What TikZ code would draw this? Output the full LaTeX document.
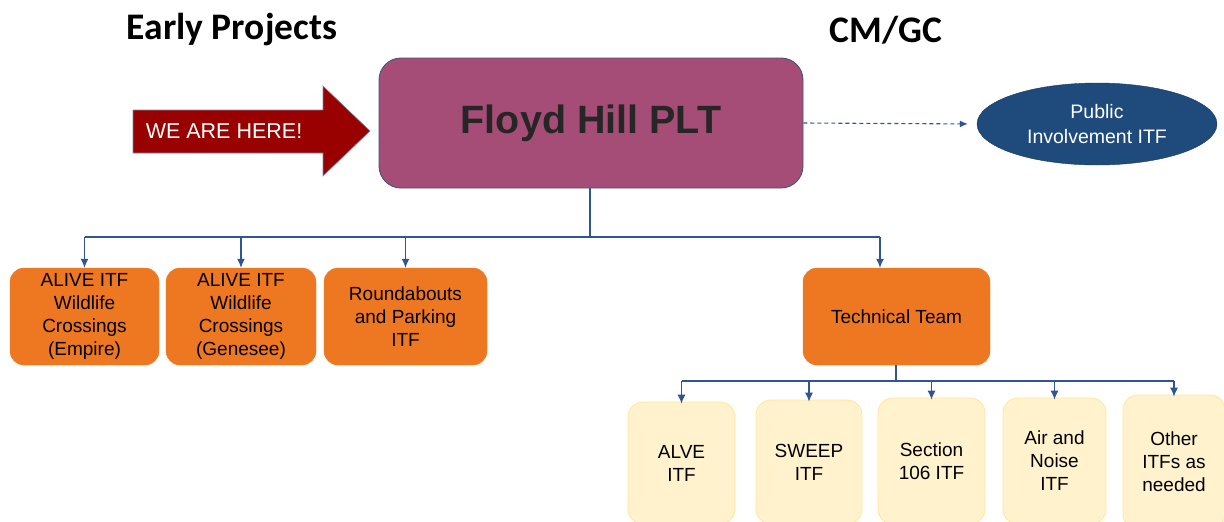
\documentclass[tikz,border=0pt]{standalone}
\usepackage{fontspec}
\setmainfont{Liberation Sans}
\newfontfamily\headfont{Carlito}
\usetikzlibrary{arrows.meta,shapes.geometric}

\definecolor{linkblue}{RGB}{47,85,151}
\definecolor{plum}{RGB}{165,77,118}
\definecolor{plumedge}{RGB}{68,84,120}
\definecolor{teamorange}{RGB}{238,120,34}
\definecolor{paleyellow}{RGB}{255,242,204}
\definecolor{paleedge}{RGB}{255,230,153}
\definecolor{navy}{RGB}{31,74,124}
\definecolor{darkred}{RGB}{153,0,0}
\definecolor{inkgray}{RGB}{38,38,38}

\tikzset{
  heading/.style={font=\headfont\bfseries\fontsize{37.5}{40}\selectfont, text=black},
  orangebox/.style={draw=teamorange, fill=teamorange, rounded corners=14pt,
    align=center, inner sep=0pt, font=\fontsize{19}{23}\selectfont, text=black},
  yellowbox/.style={draw=paleedge, line width=0.8pt, fill=paleyellow, rounded corners=15pt,
    align=center, inner sep=0pt, font=\fontsize{19}{23}\selectfont, text=black},
  wire/.style={draw=linkblue, line width=1.1pt},
  drop/.style={wire, -{Latex[length=9pt,width=8pt]}},
}

\begin{document}
\begin{tikzpicture}[x=1pt,y=-1pt]
  \useasboundingbox (0,0) rectangle (1224,522);
  \begin{scope}
    \clip (0,0) rectangle (1224,522);

    % headings
    \node[heading] (early) at (232,30) {Early Projects};
    \node[heading] (cmgc) at (886,30) {CM/GC};

    % "we are here" arrow
    \filldraw[fill=darkred, draw=plumedge!70, line width=0.6pt]
      (133,110) -- (323,110) -- (323,86) -- (370,131) -- (323,176)
      -- (323,153) -- (133,153) -- cycle;
    \node[text=white, font=\fontsize{21.5}{24}\selectfont] (here) at (224,131) {WE ARE HERE!};

    % project leadership team
    \node[draw=plumedge, line width=0.9pt, fill=plum, rounded corners=22pt,
      minimum width=424pt, minimum height=130pt, inner sep=0pt,
      text=inkgray, font=\bfseries\fontsize{39.5}{44}\selectfont]
      (plt) at (591,123) {Floyd Hill PLT};

    % public involvement
    \node[ellipse, draw=navy!80!black, fill=navy, minimum width=240pt, minimum height=82pt,
      inner sep=0pt, align=center, text=white, font=\fontsize{19.5}{25}\selectfont]
      (pub) at (1097,124) {Public\\Involvement ITF};
    \draw[wire, dash pattern=on 4pt off 3pt, -{Latex[length=8pt,width=7pt]}, shorten >=9pt]
      (plt.east) -- (pub.west);

    % early project teams and technical team
    \node[orangebox, minimum width=149pt, minimum height=97pt] (empire) at (84.5,316.5)
      {ALIVE ITF\\Wildlife\\Crossings\\(Empire)};
    \node[orangebox, minimum width=150pt, minimum height=97pt] (genesee) at (241,316.5)
      {ALIVE ITF\\Wildlife\\Crossings\\(Genesee)};
    \node[orangebox, minimum width=163pt, minimum height=97pt] (round) at (405.5,316.5)
      {Roundabouts\\and Parking\\ITF};
    \node[orangebox, minimum width=187pt, minimum height=97pt] (tech) at (896.5,316.5)
      {Technical Team};
    \coordinate (techin) at ([xshift=-16.5pt]tech.north);

    % technical team ITFs
    \node[yellowbox, minimum width=107pt, minimum height=122pt] (alve) at (681.5,463)
      {ALVE\\ITF};
    \node[yellowbox, minimum width=106pt, minimum height=124pt] (sweep) at (809,462)
      {SWEEP\\ITF};
    \node[yellowbox, minimum width=107pt, minimum height=126pt] (sec) at (931.5,461)
      {Section\\106 ITF};
    \node[yellowbox, minimum width=103pt, minimum height=126pt] (air) at (1054.5,461)
      {Air and\\Noise\\ITF};
    \node[yellowbox, minimum width=102pt, minimum height=134pt] (other) at (1174,462)
      {Other\\ITFs as\\needed};

    % connectors from the PLT
    \coordinate (bus) at (590,237);
    \draw[wire] (plt.south -| bus) -- (bus);
    \draw[wire] (empire.north |- bus) -- (techin |- bus);
    \foreach \n in {empire,genesee,round}
      \draw[drop] (\n.north |- bus) -- (\n.north);
    \draw[drop] (techin |- bus) -- (techin);

    % connectors from the technical team
    \coordinate (bus2) at (896,381);
    \draw[wire] (tech.south -| bus2) -- (bus2);
    \draw[wire] (alve.north |- bus2) -- (other.north |- bus2);
    \foreach \n in {alve,sweep,sec,air,other}
      \draw[drop] (\n.north |- bus2) -- ([yshift=-2pt]\n.north);
  \end{scope}
\end{tikzpicture}
\end{document}
